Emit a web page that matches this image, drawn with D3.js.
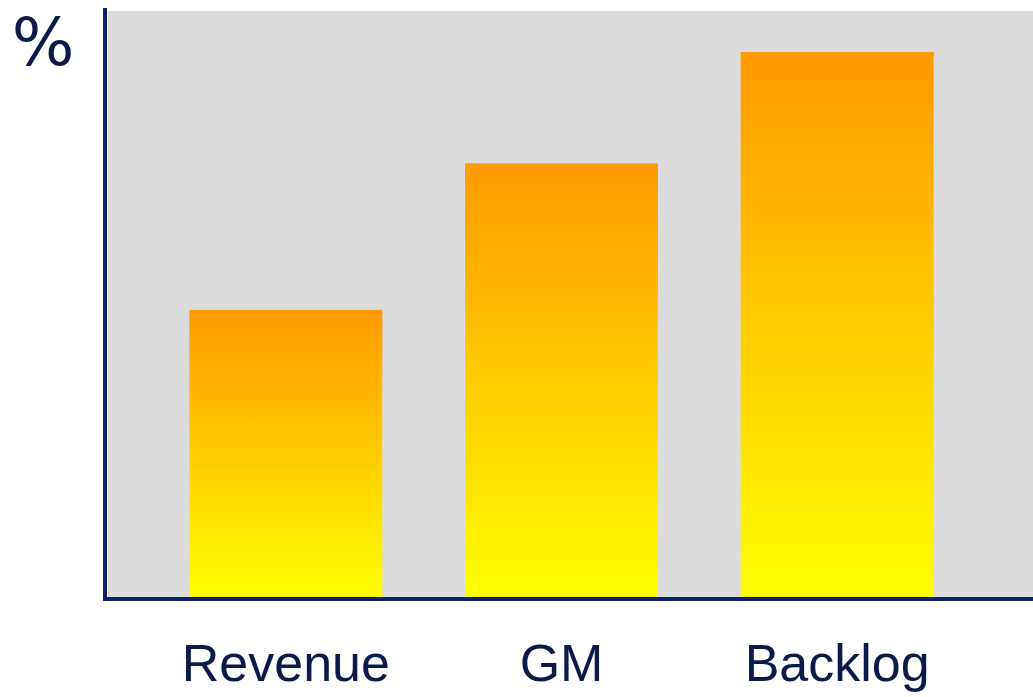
<!DOCTYPE html>
<html>
<head>
<meta charset="utf-8">
<script src="https://cdn.jsdelivr.net/npm/d3@7"></script>
<style>
  body { margin: 0; background: #ffffff; }
  svg { display: block; }
  .label { font-family: "Liberation Sans", Arial, sans-serif; fill: #0c1a4a; }
  .unit { font-family: "DejaVu Sans", Verdana, sans-serif; fill: #0c1a4a; }
</style>
</head>
<body>
<div id="chart"></div>
<script>
// chart data
var categories = ["Revenue", "GM", "Backlog"];
var values = [49, 74, 93];
var unitLabel = "%";

var svgWidth = 1033;
var svgHeight = 697;

var plot = { left: 108, top: 11, right: 1033, bottom: 597 };

var svg = d3.select("#chart")
  .append("svg")
  .attr("width", svgWidth)
  .attr("height", svgHeight);

// gradient per bar: orange on top, yellow at the base
var defs = svg.append("defs");
var grad = defs.append("linearGradient")
  .attr("id", "barGrad")
  .attr("x1", 0).attr("y1", 0)
  .attr("x2", 0).attr("y2", 1);
grad.append("stop").attr("offset", "0%").attr("stop-color", "#ff9900");
grad.append("stop").attr("offset", "100%").attr("stop-color", "#ffff00");

// scales
var xScale = d3.scaleBand()
  .domain(categories)
  .range([148, 975])
  .paddingInner(0.3)
  .paddingOuter(0.15);

var yScale = d3.scaleLinear()
  .domain([0, 100])
  .range([plot.bottom, plot.top]);

// gray plot background
svg.append("rect")
  .attr("x", plot.left)
  .attr("y", plot.top)
  .attr("width", plot.right - plot.left)
  .attr("height", plot.bottom - plot.top)
  .attr("fill", "#dcdcdc");

// bars
svg.selectAll("rect.bar")
  .data(values)
  .enter()
  .append("rect")
  .attr("class", "bar")
  .attr("x", (d, i) => xScale(categories[i]))
  .attr("y", d => yScale(d))
  .attr("width", xScale.bandwidth())
  .attr("height", d => yScale(0) - yScale(d))
  .attr("fill", "url(#barGrad)");

// axis lines
var axisColor = "#0d1f6e";
svg.append("line")
  .attr("x1", 105).attr("x2", 105)
  .attr("y1", 8).attr("y2", 601)
  .attr("stroke", axisColor)
  .attr("stroke-width", 4);

var xAxis = d3.axisBottom(xScale)
  .tickSize(0)
  .tickPadding(45);

var xAxisGroup = svg.append("g")
  .attr("transform", "translate(0, 599)")
  .call(xAxis);
xAxisGroup.select(".domain").remove();
xAxisGroup.selectAll("text")
  .attr("class", "label")
  .attr("fill", "#0c1a4a")
  .style("font-size", "52px");

svg.append("line")
  .attr("x1", 103).attr("x2", 1033)
  .attr("y1", 599).attr("y2", 599)
  .attr("stroke", axisColor)
  .attr("stroke-width", 4);

// unit label
svg.append("text")
  .attr("class", "unit")
  .attr("x", 43)
  .attr("y", 65)
  .attr("text-anchor", "middle")
  .style("font-size", "66px")
  .text(unitLabel);
</script>
</body>
</html>
